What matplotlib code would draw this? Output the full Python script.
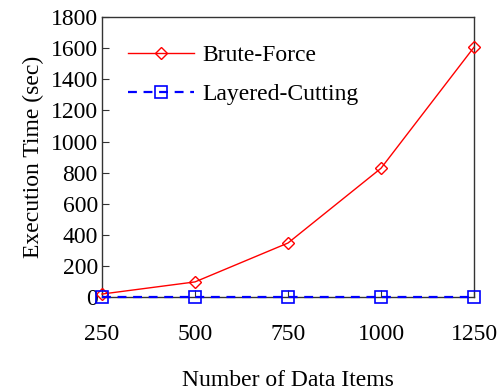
import matplotlib
matplotlib.use('Agg')
import matplotlib.pyplot as plt

items=[250,500,750,1000,1250]
brute=[20,98,348,828,1606]
layered=[3,3,3,3,3]

plt.rcParams['font.family']=['Liberation Serif','DejaVu Serif']

def main():
    fig=plt.figure(figsize=(5,3.91),dpi=100)
    ax=fig.add_axes([0.204,0.240,0.744,0.7165])
    ax.plot(items,brute,color='red',lw=1,marker='D',ms=6.5,mfc='none',mec='red',mew=1,label='Brute-Force',clip_on=False,zorder=3)
    ax.plot(items,layered,color='blue',lw=1.6,ls=(0,(4,3)),marker='s',ms=8,mfc='none',mec='blue',mew=1.2,label='Layered-Cutting',clip_on=False,zorder=3)
    ax.set_xlim(250,1250); ax.set_ylim(0,1800)
    ax.set_xticks(items); ax.set_yticks(range(0,1801,200))
    ax.tick_params(direction='in',length=5,width=0.8,labelsize=17,color='#333333')
    ax.tick_params(axis='x',pad=19); ax.tick_params(axis='y',pad=3)
    for s in ax.spines.values(): s.set_color('#333333'); s.set_linewidth(1)
    ax.set_xlabel('Number of Data Items',fontsize=17,labelpad=18)
    ax.set_ylabel('Execution Time (sec)',fontsize=17,labelpad=5)
    ax.legend(loc='upper left',frameon=False,fontsize=17,handlelength=2.8,handletextpad=0.35,labelspacing=0.72,borderaxespad=0.3,bbox_to_anchor=(0.025,0.96))
    fig.savefig('out.png',dpi=100)

if __name__=='__main__': main()
